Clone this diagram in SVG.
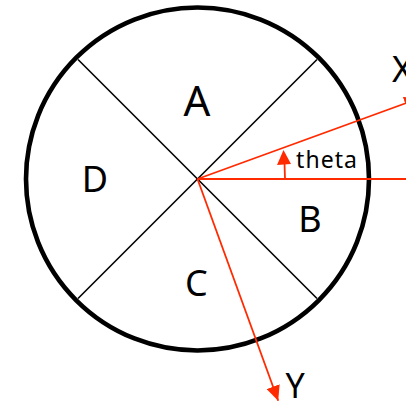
<svg xmlns="http://www.w3.org/2000/svg" width="406" height="402" viewBox="0 0 406 402">
<style>
.lbl{font-family:"Noto Sans","Open Sans",sans-serif;fill:#000;text-anchor:middle}
.ax{stroke:#FF2A00;stroke-width:1.8;fill:none}
.div{stroke:#000;stroke-width:1.6}
</style>
<defs>
<marker id="arr" markerUnits="userSpaceOnUse" viewBox="0 0 15 14" refX="15" refY="7" markerWidth="15" markerHeight="14" orient="auto">
<path d="M0,0 L15,7 L0,14 z" fill="#FF2A00"/>
</marker>
</defs>
<rect width="406" height="402" fill="#fff"/>
<g id="disc">
<circle cx="197.5" cy="179" r="171.5" fill="none" stroke="#000" stroke-width="4.6"/>
<line class="div" x1="78" y1="59.5" x2="317" y2="298.5"/>
<line class="div" x1="78" y1="298.5" x2="317" y2="59.5"/>
</g>
<g id="sectors">
<text id="A" class="lbl" x="197" y="116" font-size="42">A</text>
<text id="D" class="lbl" x="95" y="192" font-size="36">D</text>
<text id="B" class="lbl" x="310" y="232" font-size="36">B</text>
<text id="C" class="lbl" x="196.5" y="296" font-size="36">C</text>
</g>
<g id="connectors">
<line class="ax" x1="197.5" y1="179" x2="406" y2="179"/>
<line class="ax" x1="197.5" y1="179" x2="419.3" y2="98.3" marker-end="url(#arr)"/>
<line class="ax" x1="197.5" y1="179" x2="278.2" y2="400.8" marker-end="url(#arr)"/>
<line class="ax" x1="285" y1="179" x2="284.5" y2="163"/>
<polygon points="283.5,150 277,165 291,164" fill="#FF2A00"/>
</g>
<g id="labels">
<text class="lbl" x="296" y="168" font-size="23" style="text-anchor:start" textLength="61">theta</text>
<text class="lbl" x="295" y="398" font-size="34">Y</text>
<text class="lbl" x="392" y="82" font-size="36" style="text-anchor:start">X</text>
</g>
</svg>
